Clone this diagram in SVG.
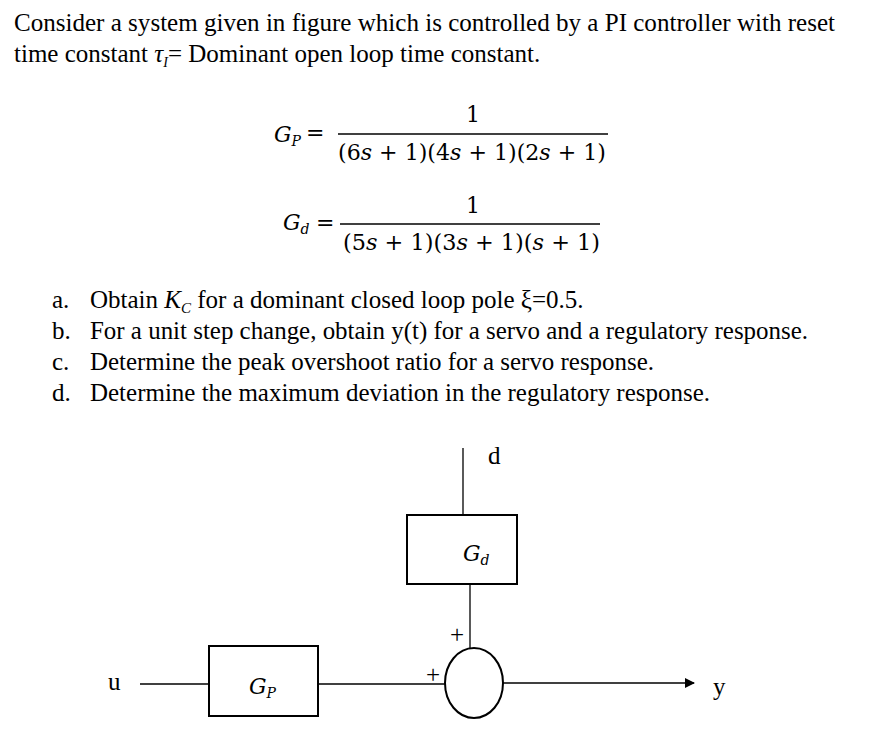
<svg xmlns="http://www.w3.org/2000/svg" width="885" height="753" viewBox="0 0 885 753">
<style>
text{font-family:"Liberation Serif",serif;font-size:25px;fill:#000}
.m{font-family:"DejaVu Serif","Liberation Serif",serif;font-size:22px}
.i{font-style:italic}
.b{fill:#fff;stroke:#000;stroke-width:2}
.c{stroke:#000;stroke-width:1.3;fill:none}
</style>
<defs><marker id="a" markerWidth="10" markerHeight="10" refX="9" refY="5" orient="auto" markerUnits="userSpaceOnUse"><path d="M0,0L10,5L0,10z" fill="#000"/></marker></defs>
<text x="14" y="31" textLength="821" lengthAdjust="spacingAndGlyphs">Consider a system given in figure which is controlled by a PI controller with reset</text>
<text x="14" y="62">time constant <tspan class="i">τ</tspan><tspan class="i" font-size="14" dy="5">I</tspan><tspan dy="-5">= Dominant open loop time constant.</tspan></text>
<text x="274" y="142" class="m i">G<tspan font-size="14" dy="4">P</tspan></text>
<text x="306" y="140" class="m">=</text>
<text x="466" y="122" class="m">1</text>
<line x1="338" y1="134" x2="608" y2="134" stroke="#000" stroke-width="1.3"/>
<text x="338" y="160" class="m" textLength="268" lengthAdjust="spacingAndGlyphs">(6<tspan class="i">s</tspan> + 1)(4<tspan class="i">s</tspan> + 1)(2<tspan class="i">s</tspan> + 1)</text>
<text x="283" y="230" class="m i">G<tspan font-size="14" dy="4">d</tspan></text>
<text x="316" y="230" class="m">=</text>
<text x="466" y="213" class="m">1</text>
<line x1="340" y1="224" x2="600" y2="224" stroke="#000" stroke-width="1.3"/>
<text x="343" y="250" class="m" textLength="257" lengthAdjust="spacingAndGlyphs">(5<tspan class="i">s</tspan> + 1)(3<tspan class="i">s</tspan> + 1)(<tspan class="i">s</tspan> + 1)</text>
<text x="52" y="308">a.</text><text x="90" y="308">Obtain <tspan class="i">K</tspan><tspan class="i" font-size="15" dy="5">C</tspan><tspan dy="-5"> for a dominant closed loop pole ξ=0.5.</tspan></text>
<text x="52" y="339">b.</text><text x="90" y="339" textLength="718" lengthAdjust="spacingAndGlyphs">For a unit step change, obtain y(t) for a servo and a regulatory response.</text>
<text x="52" y="370">c.</text><text x="90" y="370" textLength="564" lengthAdjust="spacingAndGlyphs">Determine the peak overshoot ratio for a servo response.</text>
<text x="52" y="401">d.</text><text x="90" y="401" textLength="620" lengthAdjust="spacingAndGlyphs">Determine the maximum deviation in the regulatory response.</text>
<g id="connectors">
<line class="c" x1="463" y1="448" x2="463" y2="515"/>
<line class="c" x1="470" y1="584" x2="470" y2="648"/>
<line class="c" x1="140" y1="684" x2="209" y2="684"/>
<line class="c" x1="318" y1="684" x2="445" y2="684"/>
<line class="c" x1="503" y1="683" x2="694" y2="683" marker-end="url(#a)"/>
</g>
<g id="gd"><rect class="b" x="407" y="515" width="110" height="69"/><text x="463" y="561" class="m i">G<tspan font-size="14" dy="4">d</tspan></text></g>
<g id="gp"><rect class="b" x="209" y="646" width="109" height="70"/><text x="249" y="694" class="m i">G<tspan font-size="14" dy="4">P</tspan></text></g>
<g id="sum"><ellipse class="b" cx="474" cy="683" rx="29" ry="35"/></g>
<text x="450" y="643" font-size="16">+</text>
<text x="426" y="683" font-size="16">+</text>
<text x="108" y="690" font-size="21">u</text>
<text x="713" y="695" font-size="24">y</text>
<text x="488" y="464" font-size="24">d</text>
</svg>
